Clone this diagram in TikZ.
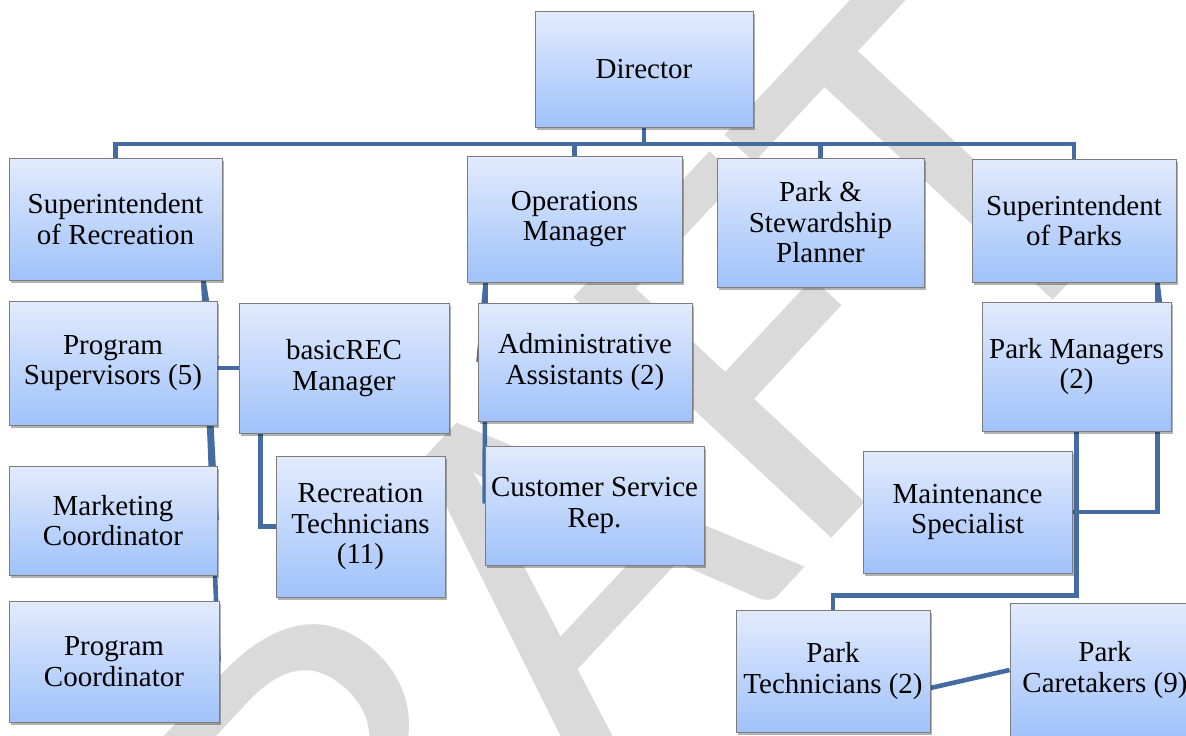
\documentclass[tikz,border=0pt]{standalone}
\usepackage{fontspec}
\setmainfont{Liberation Serif}
\newfontfamily\wmfont{Carlito}
\usetikzlibrary{calc,shadows}

\definecolor{boxtop}{RGB}{226,235,253}
\definecolor{boxbot}{RGB}{160,194,250}
\definecolor{boxline}{RGB}{125,125,125}
\definecolor{linkblue}{RGB}{68,108,162}
\definecolor{wmgray}{RGB}{218,218,218}

\pgfdeclarelayer{wmark}
\pgfdeclarelayer{links}
\pgfsetlayers{wmark,links,main}

\tikzset{
  orgbox/.style={draw=boxline, line width=0.9pt, top color=boxtop, bottom color=boxbot,
    drop shadow={shadow xshift=2pt, shadow yshift=-2.5pt, opacity=0.3, fill=black},
    align=center, inner sep=2pt, font=\fontsize{29}{30.5}\selectfont},
  sz/.style 2 args={minimum width=#1pt, minimum height=#2pt},
  link/.style={draw=linkblue, line width=4.6pt},
  wm/.style={rotate=47, text=wmgray, inner sep=0pt, font=\wmfont\fontsize{550}{550}\selectfont}
}

\begin{document}
\begin{tikzpicture}[x=1pt,y=-1pt]
    \useasboundingbox (0,0) rectangle (1186,736);
    \clip (0,0) rectangle (1186,736);

    % top row
    \node[orgbox, sz={218}{116}] (dir) at (644,69) {Director};
    \node[orgbox, sz={213}{122}] (suprec) at (115.5,219) {Superintendent\\of Recreation};
    \node[orgbox, sz={215}{126}] (opsmgr) at (574.5,219) {Operations\\Manager};
    \node[orgbox, sz={207}{129}] (planner) at (820.5,222.5) {Park \&\\Stewardship\\Planner};
    \node[orgbox, sz={204}{123}] (supparks) at (1074,220.5) {Superintendent\\of Parks};

    % recreation
    \node[orgbox, sz={208}{124}] (progsup) at (113,363) {Program\\Supervisors (5)};
    \node[orgbox, sz={210}{130}] (basicrec) at (344,368) {basicREC\\Manager};
    \node[orgbox, sz={208}{109}] (marketing) at (113,520.5) {Marketing\\Coordinator};
    \node[orgbox, sz={210}{121}] (progcoord) at (114,661.5) {Program\\Coordinator};
    \node[orgbox, sz={169}{141}] (rectech) at (360.5,526.5) {Recreation\\Technicians\\(11)};

    % operations
    \node[orgbox, sz={214}{118}] (admin) at (585,362) {Administrative\\Assistants (2)};
    \node[orgbox, sz={219}{119}] (custserv) at (594.5,505.5) {Customer Service\\Rep.};

    % parks
    \node[orgbox, sz={189}{129}] (parkmgr) at (1076.5,366.5) {Park Managers\\(2)};
    \node[orgbox, sz={209}{122}] (maint) at (967.5,512) {Maintenance\\Specialist};
    \node[orgbox, sz={194}{122}] (parktech) at (833,671) {Park\\Technicians (2)};
    \node[orgbox, sz={190}{134}] (caretakers) at (1105,670) {Park\\Caretakers (9)};

    % watermark
    \begin{pgfonlayer}{wmark}
    \node[wm] (draft) at (529,604) {DRAFT};
    \end{pgfonlayer}

    % connectors
    \begin{pgfonlayer}{links}
    \coordinate (bus) at (644,144);
    \coordinate (rectrunk) at ($(suprec.south east)+(-19,0)$);
    \coordinate (opstrunk) at ($(opsmgr.south west)+(19,0)$);
    \coordinate (parktrunk) at ($(supparks.south east)+(-19,0)$);

    \draw[link] (dir.south) -- (bus);
    \draw[link] (suprec.north) |- (bus) -| (supparks.north);
    \draw[link] (opsmgr.north) -- (opsmgr.north |- bus);
    \draw[link] (planner.north) -- (planner.north |- bus);

    \draw[link] (rectrunk) -- ($(progsup.east)+(-1,-4)$);
    \draw[link] (rectrunk) -- ($(marketing.east)+(-1,0)$);
    \draw[link] (rectrunk) -- ($(progcoord.east)+(-1,0)$);
    \draw[link] (basicrec.west) -- ++(-24,0);
    \draw[link] ($(basicrec.south west)+(22,0)$) |- (rectech.west);

    \draw[link] (opstrunk) -- ($(admin.west)+(1,0)$);
    \draw[link] (opstrunk) -- ($(custserv.west)+(0,-2)$);

    \draw[link] (parktrunk) -- ($(parkmgr.east)+(-4,-2)$);
    \draw[link] (parktrunk) |- (maint.east);
    \draw[link] (parkmgr.south) -- ++(0,164) -| (parktech.north);
    \draw[link] ($(parktech.east)+(0,17)$) -- (caretakers.west);
    \end{pgfonlayer}
\end{tikzpicture}
\end{document}
